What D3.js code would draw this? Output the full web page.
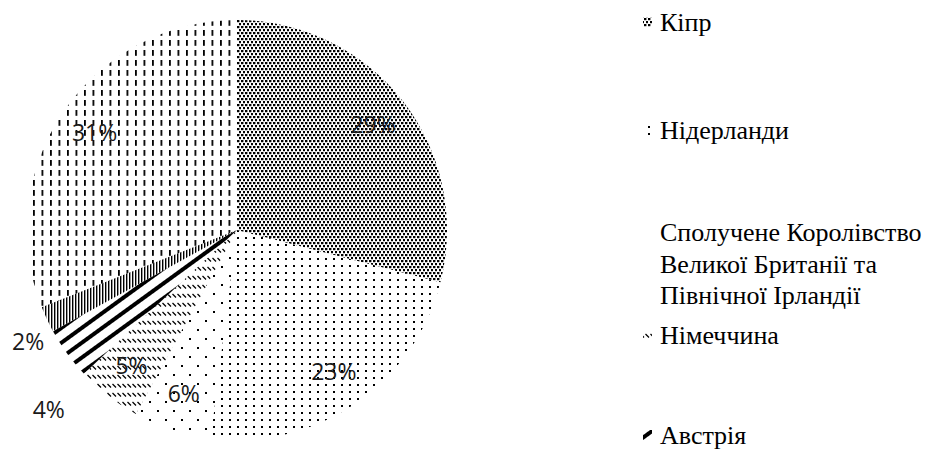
<!DOCTYPE html>
<html>
<head>
<meta charset="utf-8">
<script src="https://cdn.jsdelivr.net/npm/d3@7"></script>
<style>
  body { margin: 0; background: #fff; }
  svg { display: block; }
  .legend text { font-family: "Liberation Serif", "Times New Roman", serif; font-size: 26px; }
  .pct { font-family: "Open Sans", "DejaVu Sans", sans-serif; font-size: 23px; }
</style>
</head>
<body>
<svg id="chart" width="936" height="452"></svg>
<script>
// data
var countries = ["Кіпр", "Нідерланди", "Сполучене Королівство Великої Британії та Північної Ірландії",
                 "Німеччина", "Австрія", "Країна 6", "Інші країни"];
var legendLines = [["Кіпр"], ["Нідерланди"],
                   ["Сполучене Королівство", "Великої Британії та", "Північної Ірландії"],
                   ["Німеччина"], ["Австрія"]];
var shares = [29, 23, 6, 5, 4, 2, 31];
var shareLabels = ["29%", "23%", "6%", "5%", "4%", "2%", "31%"];
var fills = ["p-cy", "p-nl", "p-uk", "p-de", "p-at", "p-c6", "p-oth"];

var svg = d3.select("#chart");
var defs = svg.append("defs");

function pattern(id, w, h, extra) {
  var p = defs.append("pattern")
      .attr("id", id)
      .attr("patternUnits", "userSpaceOnUse")
      .attr("width", w)
      .attr("height", h);
  if (extra) p.attr("patternTransform", extra);
  return p;
}
var p;
p = pattern("p-cy", 4, 6);
p.append("rect").attr("x", 0).attr("y", 0).attr("width", 2.4).attr("height", 2.2);
p.append("rect").attr("x", 2).attr("y", 3).attr("width", 2.4).attr("height", 2.2);

p = pattern("p-nl", 8, 7);
p.append("rect").attr("x", 0).attr("y", 0).attr("width", 2).attr("height", 2);

p = pattern("p-uk", 16, 18);
p.append("rect").attr("x", 0).attr("y", 0).attr("width", 2).attr("height", 2);
p.append("rect").attr("x", 8).attr("y", 9).attr("width", 2).attr("height", 2);

p = pattern("p-de", 5, 9);
p.append("line").attr("x1", 0.5).attr("y1", 1).attr("x2", 4).attr("y2", 4.5)
  .attr("stroke", "#000").attr("stroke-width", 1.3);

p = pattern("p-at", 12, 12, "rotate(54)");
p.append("rect").attr("x", 0).attr("y", 0).attr("width", 2).attr("height", 12);
p.append("rect").attr("x", 10).attr("y", 0).attr("width", 2).attr("height", 12);

p = pattern("p-c6", 3, 4);
p.append("rect").attr("x", 0).attr("y", 0).attr("width", 1.4).attr("height", 4);

p = pattern("p-oth", 8.5, 10);
p.append("rect").attr("x", 0).attr("y", 0).attr("width", 1.8).attr("height", 5.8);

// pie
var cx = 237, cy = 230, r = 210;
var pie = d3.pie().sort(null).value(function(d) { return d; });
var arcs = pie(shares);
var arc = d3.arc().innerRadius(0).outerRadius(r);
var labelArc = d3.arc().innerRadius(r * 0.82).outerRadius(r * 0.82);
var outerArc = d3.arc().innerRadius(r * 1.12).outerRadius(r * 1.12);

var g = svg.append("g").attr("transform", "translate(" + cx + "," + cy + ")");

g.selectAll("path.slice")
  .data(arcs)
  .enter().append("path")
    .attr("class", "slice")
    .attr("d", arc)
    .attr("fill", function(d, i) { return "url(#" + fills[i] + ")"; });

// small slices get their label outside, the way Excel's best fit does it
var nudge = { 4: [2, 42], 5: [4, 12] };
g.selectAll("text.pct")
  .data(arcs)
  .enter().append("text")
    .attr("class", "pct")
    .attr("transform", function(d, i) {
      var small = shares[i] < 5;
      var c = small ? outerArc.centroid(d) : labelArc.centroid(d);
      if (nudge[i]) { c[0] += nudge[i][0]; c[1] += nudge[i][1]; }
      return "translate(" + c + ")";
    })
    .attr("text-anchor", "middle")
    .attr("dy", "0.35em")
    .attr("fill", "#1a1a1a")
    .text(function(d, i) { return shareLabels[i]; });

// legend (only the first five entries fit in the picture)
var legendY = [22, 130, 232, 335, 435];
var legend = svg.append("g").attr("class", "legend");
var items = legend.selectAll("g.item")
  .data(legendLines)
  .enter().append("g")
    .attr("class", "item");

items.append("rect")
  .attr("x", 643)
  .attr("y", function(d, i) { return legendY[i] - 5; })
  .attr("width", 9)
  .attr("height", 10)
  .attr("fill", function(d, i) { return "url(#" + fills[i] + ")"; });

items.append("text")
  .attr("x", 660)
  .attr("y", function(d, i) { return legendY[i]; })
  .attr("fill", "#000")
  .selectAll("tspan")
  .data(function(d) { return d; })
  .enter().append("tspan")
    .attr("x", 660)
    .attr("dy", function(d, j) { return j === 0 ? "0.35em" : "31.5px"; })
    .text(function(d) { return d; });
</script>
</body>
</html>
